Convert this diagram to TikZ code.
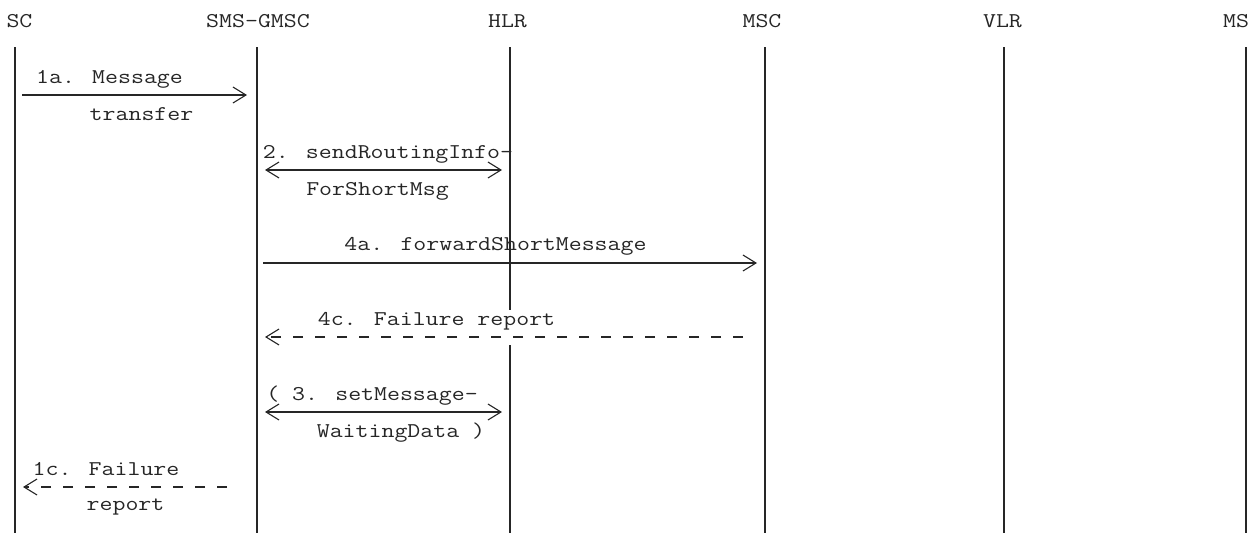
\documentclass[tikz,border=0pt]{standalone}
\usepackage{graphicx}
\usetikzlibrary{arrows.meta}
\newcommand{\monotext}[1]{\scalebox{1.197}[1]{#1}}
\begin{document}
\begin{tikzpicture}[x=1pt,y=-1pt,
  lbl/.style={font=\ttfamily\fontsize{21}{21}\selectfont, inner sep=0pt, anchor=base, text=black!85},
  life/.style={line width=1.7pt, black!85},
  tipc/.tip={Straight Barb[length=13pt,width=16pt,line width=1.1pt]},
  msg/.style={line width=1.1pt, black!85, -tipc},
  bmsg/.style={msg, tipc-tipc},
  dmsg/.style={msg, dash pattern=on 10pt off 12pt}
]
\useasboundingbox (0,0) rectangle (1253,533);

% headers
\node[lbl] (hSC)   at (19.5,27)  {\monotext{SC}};
\node[lbl] (hGMSC) at (258,27)   {\monotext{SMS-GMSC}};
\node[lbl] (hHLR)  at (507.5,27) {\monotext{HLR}};
\node[lbl] (hMSC)  at (762,27)   {\monotext{MSC}};
\node[lbl] (hVLR)  at (1002.5,27){\monotext{VLR}};
\node[lbl] (hMS)   at (1236,27)  {\monotext{MS}};

% lifelines
\coordinate (SCt) at (15,47);     \coordinate (SCb) at (15,533);
\coordinate (GMt) at (257,47);    \coordinate (GMb) at (257,533);
\coordinate (HLt) at (510,47);    \coordinate (HLb) at (510,533);
\coordinate (HLg1) at (510,310);  \coordinate (HLg2) at (510,345);
\coordinate (MSCt) at (765,47);   \coordinate (MSCb) at (765,533);
\coordinate (VLt) at (1004,47);   \coordinate (VLb) at (1004,533);
\coordinate (MSt) at (1246,47);   \coordinate (MSb) at (1246,533);
\draw[life] (SCt) -- (SCb);
\draw[life] (GMt) -- (GMb);
\draw[life] (HLt) -- (HLg1);
\draw[life] (HLg2) -- (HLb);
\draw[life] (MSCt) -- (MSCb);
\draw[life] (VLt) -- (VLb);
\draw[life] (MSt) -- (MSb);

% 1a
\coordinate (a1s) at (22,95);  \coordinate (a1e) at (247,95);
\draw[msg] (a1s) -- (a1e);
\node[lbl] (t1a)  at (109.5,83) {\monotext{1a. Message}};
\node[lbl] (t1a2) at (141.5,120) {\monotext{transfer}};

% 2
\coordinate (a2s) at (265,170); \coordinate (a2e) at (502,170);
\draw[bmsg] (a2s) -- (a2e);
\node[lbl] (t2)  at (388,158) {\monotext{2. sendRoutingInfo-}};
\node[lbl] (t22) at (377.5,195) {\monotext{ForShortMsg}};

% 4a
\coordinate (a4s) at (263,263); \coordinate (a4e) at (757,263);
\draw[msg] (a4s) -- (a4e);
\node[lbl] (t4a) at (495.5,250) {\monotext{4a. forwardShortMessage}};

% 4c
\coordinate (c4s) at (743,337); \coordinate (c4e) at (265,337);
\draw[dmsg] (c4s) -- (c4e);
\node[lbl] (t4c) at (436.5,325) {\monotext{4c. Failure report}};

% 3
\coordinate (a3s) at (265,412); \coordinate (a3e) at (502,412);
\draw[bmsg] (a3s) -- (a3e);
\node[lbl] (t3)  at (372,400) {\monotext{( 3. setMessage-}};
\node[lbl] (t32) at (401,437) {\monotext{WaitingData )}};

% 1c
\coordinate (c1s) at (227,487); \coordinate (c1e) at (23,487);
\draw[dmsg] (c1s) -- (c1e);
\node[lbl] (t1c)  at (106,475) {\monotext{1c. Failure}};
\node[lbl] (t1c2) at (125.5,510) {\monotext{report}};
\end{tikzpicture}
\end{document}
